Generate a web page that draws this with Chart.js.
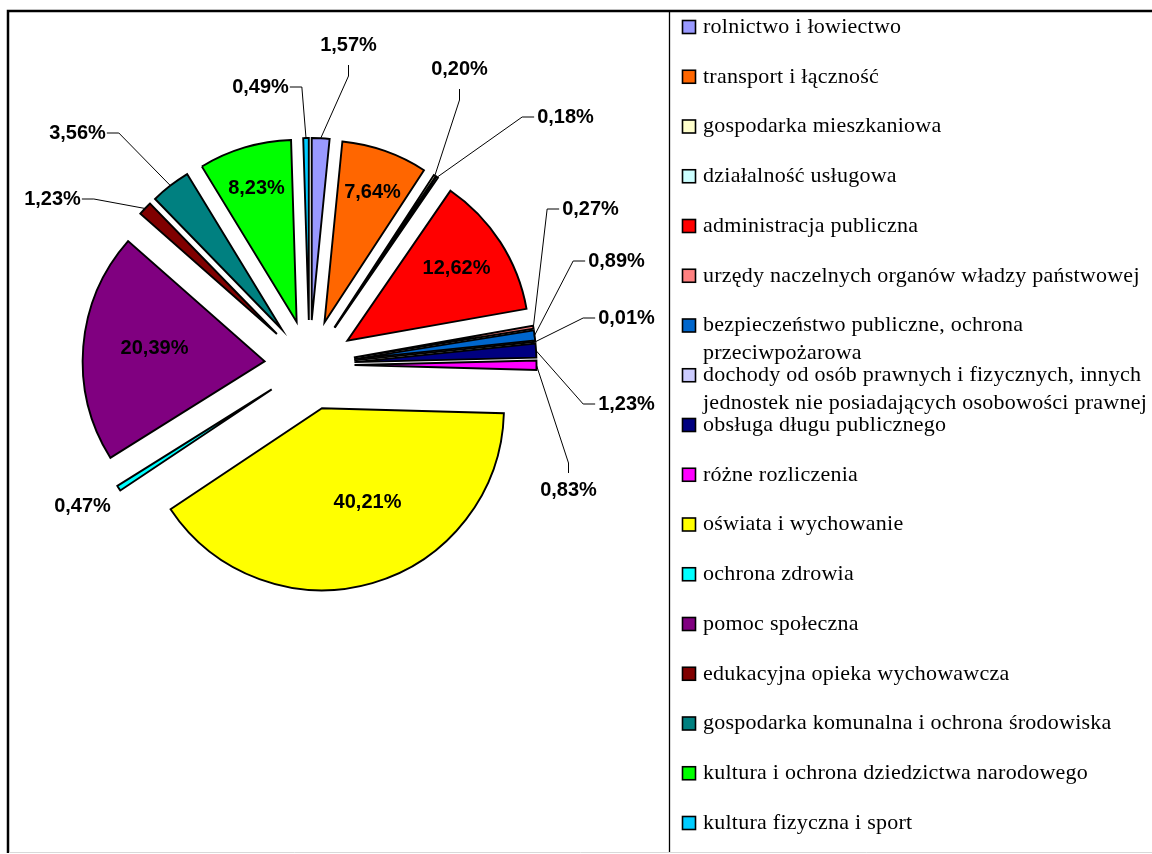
<!DOCTYPE html>
<html>
<head>
<meta charset="utf-8">
<script src="https://cdn.jsdelivr.net/npm/chart.js@4.4.1/dist/chart.umd.min.js"></script>
<style>
  html, body { margin: 0; padding: 0; background: #fff; }
  #wrap { width: 1152px; height: 854px; position: relative; }
</style>
</head>
<body>
<div id="wrap"><canvas id="pieChart"></canvas></div>
<script>
// dane
const kategorie = [
  'rolnictwo i łowiectwo',
  'transport i łączność',
  'gospodarka mieszkaniowa',
  'działalność usługowa',
  'administracja publiczna',
  'urzędy naczelnych organów władzy państwowej',
  'bezpieczeństwo publiczne, ochrona przeciwpożarowa',
  'dochody od osób prawnych i fizycznych, innych jednostek nie posiadających osobowości prawnej',
  'obsługa długu publicznego',
  'różne rozliczenia',
  'oświata i wychowanie',
  'ochrona zdrowia',
  'pomoc społeczna',
  'edukacyjna opieka wychowawcza',
  'gospodarka komunalna i ochrona środowiska',
  'kultura i ochrona dziedzictwa narodowego',
  'kultura fizyczna i sport'
];
const udzialy = [1.57, 7.64, 0.20, 0.18, 12.62, 0.27, 0.89, 0.01, 1.23, 0.83, 40.21, 0.47, 20.39, 1.23, 3.56, 8.23, 0.49];
const kolory = ['#9999FF', '#FF6600', '#FFFFCC', '#CCFFFF', '#FF0000', '#FF8080', '#0066CC', '#CCCCFF',
  '#000080', '#FF00FF', '#FFFF00', '#00FFFF', '#800080', '#800000', '#008080', '#00FF00', '#00CCFF'];

// wygląd
const EXPLODE = 45;
// położenie etykiet względem środka koła
const polozenie = [
  [39, -320], [63, -173], [150, -296], [256, -248], [147, -97], [281, -156], [307, -104],
  [317, -47], [317, 39], [259, 125], [58, 137], [-227, 141], [-155, -17], [-257, -166],
  [-232, -232], [-53, -177], [-49, -278]
];
// linie odniesienia: L - od lewej, R - od prawej, B - od dołu, T - od góry
const linie = ['B', null, 'B', 'L', null, 'L', 'L', 'L', 'L', 'T', null, null, null, 'R', 'R', null, 'R'];

const fmt = v => v.toFixed(2).replace('.', ',') + '%';

const rozsuniecie = {
  id: 'rozsuniecie',
  beforeDatasetDraw(chart, args) {
    const ctx = chart.ctx;
    args.meta.data.forEach(arc => {
      const mid = (arc.startAngle + arc.endAngle) / 2;
      ctx.save();
      ctx.translate(Math.cos(mid) * EXPLODE, Math.sin(mid) * EXPLODE);
      arc.draw(ctx);
      ctx.restore();
    });
    return false;
  }
};

const etykiety = {
  id: 'etykiety',
  afterDatasetsDraw(chart) {
    const ctx = chart.ctx;
    const arcs = chart.getDatasetMeta(0).data;
    ctx.save();
    ctx.font = 'bold 20px "Liberation Sans", Arial, sans-serif';
    ctx.fillStyle = '#000';
    ctx.strokeStyle = '#000';
    ctx.lineWidth = 1;
    ctx.textAlign = 'center';
    ctx.textBaseline = 'middle';
    arcs.forEach((arc, i) => {
      const tekst = fmt(udzialy[i]);
      const lx = arc.x + polozenie[i][0];
      const ly = arc.y + polozenie[i][1];
      const typ = linie[i];
      if (typ) {
        const mid = (arc.startAngle + arc.endAngle) / 2;
        const tx = arc.x + Math.cos(mid) * (EXPLODE + arc.outerRadius);
        const ty = arc.y + Math.sin(mid) * (EXPLODE + arc.outerRadius);
        const w = ctx.measureText(tekst).width;
        let sx = lx, sy = ly, ex = lx, ey = ly;
        if (typ === 'L') { sx = lx - w / 2 - 3; ex = sx - 12; }
        if (typ === 'R') { sx = lx + w / 2 + 1; ex = sx + 12; }
        if (typ === 'B') { sy = ly + 20; ey = sy + 11; }
        if (typ === 'T') { sy = ly - 17; ey = sy - 10; }
        ctx.beginPath();
        ctx.moveTo(sx, sy);
        ctx.lineTo(ex, ey);
        ctx.lineTo(tx, ty);
        ctx.stroke();
      }
      ctx.fillText(tekst, lx, ly);
    });
    ctx.restore();
  }
};

function zawin(ctx, tekst, maxW) {
  const slowa = tekst.split(' ');
  const wynik = [];
  let akt = '';
  slowa.forEach(s => {
    const prob = akt ? akt + ' ' + s : s;
    if (ctx.measureText(prob).width > maxW && akt) {
      wynik.push(akt);
      akt = s;
    } else {
      akt = prob;
    }
  });
  wynik.push(akt);
  return wynik;
}

const legenda = {
  id: 'legenda',
  afterDraw(chart) {
    const ctx = chart.ctx;
    ctx.save();
    // ramka
    ctx.strokeStyle = '#000';
    ctx.lineWidth = 2.5;
    ctx.beginPath();
    ctx.moveTo(8, 853); ctx.lineTo(8, 11); ctx.lineTo(1152, 11);
    ctx.stroke();
    ctx.lineWidth = 1.3;
    ctx.beginPath();
    ctx.moveTo(669.5, 11); ctx.lineTo(669.5, 853);
    ctx.stroke();
    ctx.strokeStyle = '#d9d9d9';
    ctx.lineWidth = 1;
    ctx.beginPath();
    ctx.moveTo(9, 852.5); ctx.lineTo(1152, 852.5);
    ctx.stroke();

    ctx.font = '22px "Liberation Serif", "Times New Roman", serif';
    ctx.letterSpacing = '0.25px';
    ctx.textBaseline = 'middle';
    ctx.textAlign = 'left';
    kategorie.forEach((nazwa, i) => {
      const yc = 27 + i * 49.75;
      ctx.fillStyle = kolory[i];
      ctx.fillRect(682.5, yc - 6.5, 13, 13);
      ctx.strokeStyle = '#000';
      ctx.lineWidth = 1.6;
      ctx.strokeRect(682.5, yc - 6.5, 13, 13);
      ctx.fillStyle = '#000';
      zawin(ctx, nazwa, 446).forEach((l, k) => ctx.fillText(l, 703, yc + k * 27.5));
    });
    ctx.restore();
  }
};

new Chart(document.getElementById('pieChart'), {
  type: 'pie',
  data: {
    labels: kategorie,
    datasets: [{
      data: udzialy,
      backgroundColor: kolory,
      borderColor: '#000',
      borderWidth: 1.9,
      borderJoinStyle: 'miter'
    }]
  },
  options: {
    responsive: true,
    maintainAspectRatio: false,
    animation: false,
    radius: 182,
    layout: { padding: { left: 20, right: 553, top: 20, bottom: 144 } },
    plugins: {
      legend: { display: false },
      tooltip: { enabled: false }
    }
  },
  plugins: [rozsuniecie, etykiety, legenda]
});
</script>
</body>
</html>
